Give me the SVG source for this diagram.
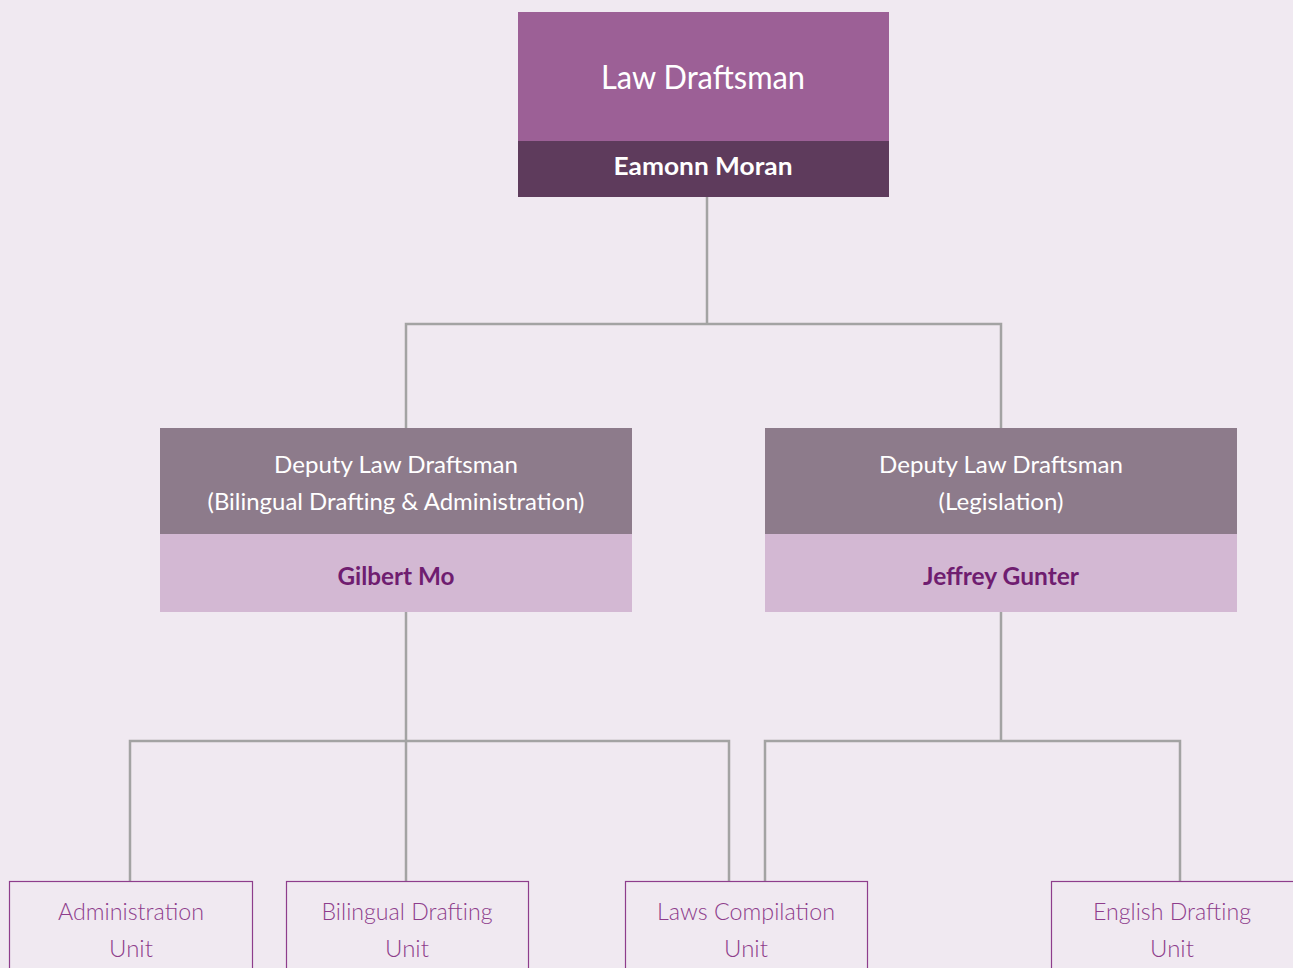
<svg xmlns="http://www.w3.org/2000/svg" width="1293" height="968" viewBox="0 0 1293 968">
  <style>
    .bg { fill: #f0e9f1; }
    .link { fill: none; stroke: #a3a3a3; stroke-width: 2.5; }
    .t { font-family: Lato, "Open Sans", "Liberation Sans", sans-serif; text-anchor: middle; }
    .head { fill: #9c6096; }
    .headname { fill: #5e3b5c; }
    .dep { fill: #8d7b8b; }
    .depname { fill: #d3b8d3; }
    .unit { fill: #f0e9f1; stroke: #8e3d8c; stroke-width: 1.2; }
    .white { fill: #ffffff; }
    .w-light { font-size: 24px; font-weight: 400; }
    .name { font-size: 24px; font-weight: 700; }
    .plum { fill: #6f1d70; }
    .unitlabel { fill: #8e3d8c; font-size: 24px; font-weight: 300; }
  </style>

  <rect class="bg" x="0" y="0" width="1293" height="968"/>

  <g id="connectors">
    <path class="link" d="M707 197 V324 M406 428 V324 H1001 V428"/>
    <path class="link" d="M406 612 V741 M130 881 V741 H729 V881 M406 741 V881"/>
    <path class="link" d="M1001 612 V741 M765 881 V741 H1180 V881"/>
  </g>

  <g id="law-draftsman">
    <rect class="head" x="518" y="12" width="371" height="129"/>
    <rect class="headname" x="518" y="141" width="371" height="56"/>
    <text class="t white" x="703" y="89" font-size="32" textLength="204" lengthAdjust="spacingAndGlyphs">Law Draftsman</text>
    <text class="t white name" x="703" y="175" textLength="179" lengthAdjust="spacingAndGlyphs">Eamonn Moran</text>
  </g>

  <g id="deputy-bilingual">
    <rect class="dep" x="160" y="428" width="472" height="106"/>
    <rect class="depname" x="160" y="534" width="472" height="78"/>
    <text class="t white w-light" x="396" y="473" textLength="244" lengthAdjust="spacingAndGlyphs">Deputy Law Draftsman</text>
    <text class="t white w-light" x="396" y="510" textLength="377" lengthAdjust="spacingAndGlyphs">(Bilingual Drafting &amp; Administration)</text>
    <text class="t plum name" x="396" y="585" textLength="117" lengthAdjust="spacingAndGlyphs">Gilbert Mo</text>
  </g>

  <g id="deputy-legislation">
    <rect class="dep" x="765" y="428" width="472" height="106"/>
    <rect class="depname" x="765" y="534" width="472" height="78"/>
    <text class="t white w-light" x="1001" y="473" textLength="244" lengthAdjust="spacingAndGlyphs">Deputy Law Draftsman</text>
    <text class="t white w-light" x="1001" y="510" textLength="125" lengthAdjust="spacingAndGlyphs">(Legislation)</text>
    <text class="t plum name" x="1001" y="585" textLength="156" lengthAdjust="spacingAndGlyphs">Jeffrey Gunter</text>
  </g>

  <g id="administration-unit">
    <rect class="unit" x="9.5" y="881.5" width="243" height="100"/>
    <text class="t unitlabel" x="131" y="920" textLength="146" lengthAdjust="spacingAndGlyphs">Administration</text>
    <text class="t unitlabel" x="131" y="957">Unit</text>
  </g>

  <g id="bilingual-drafting-unit">
    <rect class="unit" x="286.5" y="881.5" width="242" height="100"/>
    <text class="t unitlabel" x="407" y="920" textLength="171" lengthAdjust="spacingAndGlyphs">Bilingual Drafting</text>
    <text class="t unitlabel" x="407" y="957">Unit</text>
  </g>

  <g id="laws-compilation-unit">
    <rect class="unit" x="625.5" y="881.5" width="242" height="100"/>
    <text class="t unitlabel" x="746" y="920" textLength="178" lengthAdjust="spacingAndGlyphs">Laws Compilation</text>
    <text class="t unitlabel" x="746" y="957">Unit</text>
  </g>

  <g id="english-drafting-unit">
    <rect class="unit" x="1051.5" y="881.5" width="260" height="100"/>
    <text class="t unitlabel" x="1172" y="920" textLength="158" lengthAdjust="spacingAndGlyphs">English Drafting</text>
    <text class="t unitlabel" x="1172" y="957">Unit</text>
  </g>
</svg>
